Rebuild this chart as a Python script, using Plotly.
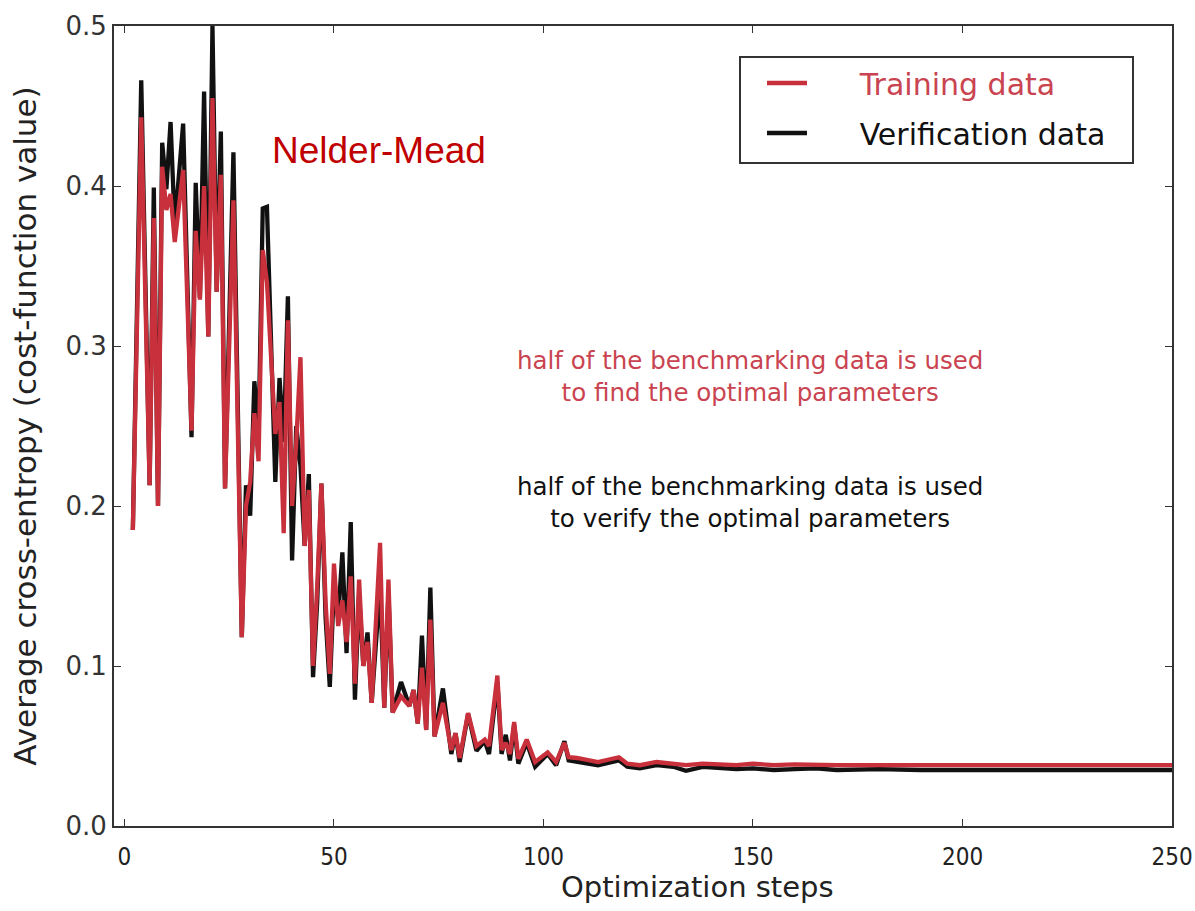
import plotly.graph_objects as go

# ---- data ----
steps = [2, 4, 6, 7, 8, 9, 10, 11, 12, 14, 16, 17, 18, 19, 20, 21, 22, 23, 24, 26,
         28, 29, 30, 31, 32, 33, 34, 36, 37, 38, 39, 40, 41, 42, 43, 44, 45, 46, 47, 48,
         49, 50, 51, 52, 53, 54, 55, 56, 57, 58, 59, 61, 62, 63, 64, 66, 68, 69, 70, 71,
         72, 73, 74, 76, 78, 79, 80, 82, 84, 86, 87, 89, 90, 91, 92, 93, 94, 96, 98, 101,
         103, 105, 106, 108, 113, 118, 120, 123, 127, 131, 134, 138, 142, 146, 150, 155, 160, 165, 170, 180,
         190, 200, 225, 250]

training = [0.185, 0.443, 0.213, 0.380, 0.200, 0.412, 0.385, 0.395, 0.365, 0.410,
            0.247, 0.372, 0.329, 0.400, 0.306, 0.455, 0.334, 0.407, 0.211, 0.391,
            0.118, 0.200, 0.215, 0.258, 0.228, 0.360, 0.340, 0.245, 0.265, 0.183,
            0.316, 0.200, 0.240, 0.293, 0.175, 0.210, 0.100, 0.150, 0.214, 0.140,
            0.095, 0.164, 0.125, 0.141, 0.115, 0.156, 0.089, 0.154, 0.100, 0.115,
            0.077, 0.177, 0.074, 0.154, 0.071, 0.081, 0.075, 0.085, 0.064, 0.099,
            0.060, 0.129, 0.056, 0.077, 0.0475, 0.058, 0.0425, 0.0706, 0.050, 0.054,
            0.050, 0.094, 0.0475, 0.052, 0.045, 0.065, 0.042, 0.054, 0.040, 0.046,
            0.040, 0.052, 0.043, 0.0425, 0.040, 0.043, 0.039, 0.038, 0.040, 0.039,
            0.038, 0.039, 0.0385, 0.038, 0.039, 0.038, 0.0385, 0.038, 0.038, 0.038,
            0.038, 0.038, 0.038, 0.038]

verification = [0.185, 0.466, 0.213, 0.399, 0.200, 0.427, 0.398, 0.440, 0.375, 0.439,
                0.243, 0.402, 0.330, 0.459, 0.306, 0.500, 0.334, 0.434, 0.211, 0.421,
                0.118, 0.213, 0.194, 0.278, 0.245, 0.386, 0.387, 0.215, 0.280, 0.240,
                0.331, 0.166, 0.250, 0.225, 0.175, 0.220, 0.093, 0.140, 0.214, 0.130,
                0.087, 0.150, 0.130, 0.171, 0.108, 0.190, 0.079, 0.145, 0.100, 0.121,
                0.077, 0.150, 0.074, 0.145, 0.071, 0.090, 0.075, 0.085, 0.064, 0.119,
                0.060, 0.149, 0.056, 0.086, 0.045, 0.058, 0.040, 0.070, 0.047, 0.053,
                0.045, 0.090, 0.045, 0.057, 0.041, 0.063, 0.039, 0.052, 0.037, 0.045,
                0.038, 0.053, 0.041, 0.040, 0.038, 0.041, 0.037, 0.036, 0.038, 0.037,
                0.0345, 0.037, 0.0365, 0.0355, 0.036, 0.035, 0.0355, 0.036, 0.035, 0.0355,
                0.035, 0.035, 0.035, 0.035]

x_ticks = [0, 50, 100, 150, 200, 250]
y_ticks = [0.0, 0.1, 0.2, 0.3, 0.4, 0.5]

RED = "#c8303c"
RED_TEXT = "#c94450"
BLACK = "#111111"
AXIS = "#333333"

# plot frame in pixels
L, R, T, B = 114, 1172, 26, 826
W, H = 1195, 911
PW, PH = R - L, B - T


def px(xp):
    return (xp - L) / PW


def py(yp):
    return (B - yp) / PH


NB = "&nbsp;"

fig = go.Figure()
fig.add_trace(go.Scatter(
    x=steps, y=verification, mode="lines",
    name=NB * 5 + "Verification data" + NB * 3, legendgroup="b", legendrank=2,
    line=dict(color=BLACK, width=4.3),
))
fig.add_trace(go.Scatter(
    x=steps, y=training, mode="lines",
    name=NB * 5 + f"<span style='color:{RED_TEXT}'>Training data</span>", legendgroup="a", legendrank=1,
    line=dict(color=RED, width=4.3),
))

fig.update_layout(
    width=W, height=H,
    margin=dict(l=L, r=W - R, t=T, b=H - B),
    paper_bgcolor="white", plot_bgcolor="white",
    showlegend=True,
    legend=dict(
        x=px(762), y=py(57),
        xanchor="left", yanchor="top",
        borderwidth=0, bgcolor="rgba(0,0,0,0)",
        font=dict(family="DejaVu Sans", size=30, color="#111111"),
        tracegroupgap=8, itemwidth=40,
        traceorder="grouped",
    ),
    font=dict(family="DejaVu Sans", color="#222222"),
    shapes=[dict(
        type="rect", xref="paper", yref="paper",
        x0=px(740), x1=px(1133), y0=py(163), y1=py(57),
        line=dict(color=AXIS, width=2), fillcolor="rgba(0,0,0,0)", layer="above",
    )],
)

fig.update_xaxes(
    range=[-2.5, 250], tickvals=x_ticks, ticktext=[str(v) for v in x_ticks],
    showgrid=False, zeroline=False, automargin=False,
    showline=True, linecolor=AXIS, linewidth=2, mirror="allticks",
    ticks="inside", ticklen=7, tickcolor=AXIS, tickwidth=1,
    ticklabelstandoff=8,
    tickfont=dict(family="DejaVu Sans Condensed", size=24, color="#222222"),
)
fig.update_yaxes(
    range=[0, 0.5], tickvals=y_ticks, ticktext=[f"{v:.1f}" for v in y_ticks],
    showgrid=False, zeroline=False, automargin=False,
    showline=True, linecolor=AXIS, linewidth=2, mirror="allticks",
    ticks="inside", ticklen=7, tickcolor=AXIS, tickwidth=1,
    ticklabelstandoff=0,
    tickfont=dict(family="DejaVu Sans", size=26, color="#333333"),
    title=dict(text="Average cross-entropy (cost-function value)", standoff=20,
               font=dict(family="DejaVu Sans", size=31, color="#222222")),
)

# x-axis title (placed as in the reference, slightly right of centre)
fig.add_annotation(
    x=px(697), y=py(887), xref="paper", yref="paper",
    text="Optimization steps", showarrow=False,
    xanchor="center", yanchor="middle",
    font=dict(family="DejaVu Sans", size=29, color="#222222"),
)

fig.add_annotation(
    x=34.8, y=0.4225, xref="x", yref="y", text="Nelder-Mead", showarrow=False,
    xanchor="left", yanchor="middle",
    font=dict(family="Liberation Sans", size=37, color="#c00000"),
)
fig.add_annotation(
    x=149.2, y=0.281, xref="x", yref="y",
    text="half of the benchmarking data is used<br>to find the optimal parameters",
    showarrow=False, align="center",
    font=dict(family="DejaVu Sans", size=24.5, color=RED_TEXT),
)
fig.add_annotation(
    x=149.2, y=0.202, xref="x", yref="y",
    text="half of the benchmarking data is used<br>to verify the optimal parameters",
    showarrow=False, align="center",
    font=dict(family="DejaVu Sans", size=24.5, color="#111111"),
)

fig.write_html("out.html")
